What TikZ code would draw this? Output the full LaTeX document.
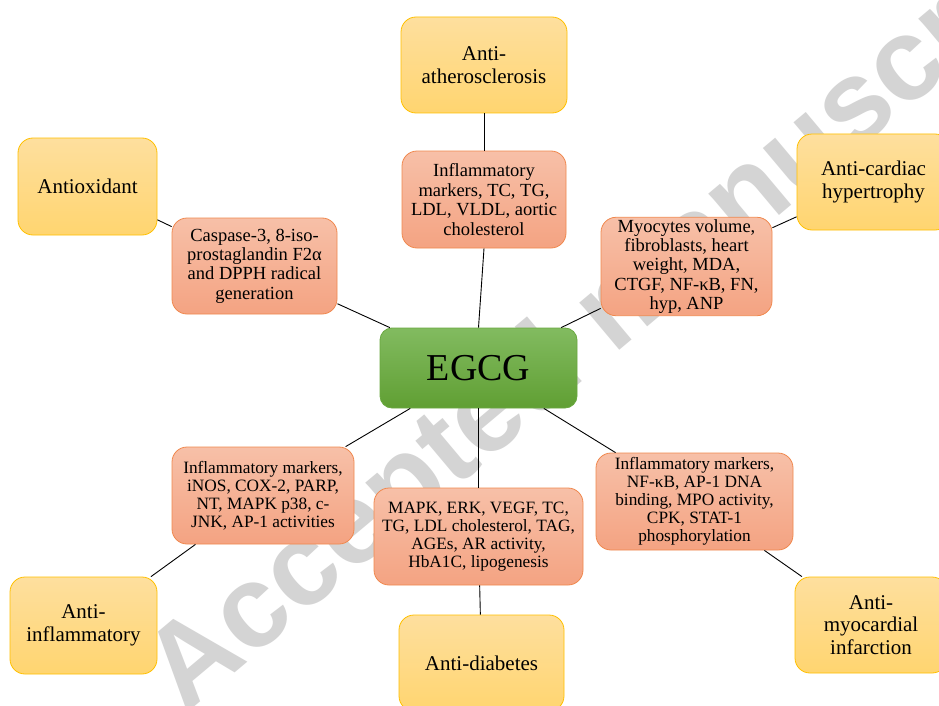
\documentclass[tikz,border=0pt]{standalone}
\usepackage{fontspec}
\setmainfont{Liberation Serif}
\newfontfamily\wmfont{Liberation Sans}
\definecolor{yelT}{RGB}{254,223,158}
\definecolor{yelBt}{RGB}{255,213,112}
\definecolor{yelD}{RGB}{255,192,0}
\definecolor{salT}{RGB}{247,192,168}
\definecolor{salBt}{RGB}{244,163,130}
\definecolor{salD}{RGB}{240,136,78}
\definecolor{grT}{RGB}{130,187,96}
\definecolor{grBt}{RGB}{96,159,51}
\definecolor{grD}{RGB}{106,168,64}
\definecolor{wmgray}{RGB}{212,212,212}
\begin{document}
\begin{tikzpicture}[x=1pt,y=-1pt,
  ybox/.style={draw=yelD, line width=0.8pt, top color=yelT, bottom color=yelBt,
    rounded corners=15pt, align=center, inner sep=2pt,
    font=\fontsize{21}{22.5}\selectfont},
  sbox/.style={draw=salD, line width=0.8pt, top color=salT, bottom color=salBt,
    rounded corners=15pt, align=center, inner sep=2pt,
    font=\fontsize{18.5}{19.4}\selectfont},
  sboxsm/.style={sbox, font=\fontsize{17.3}{17.9}\selectfont},
  gbox/.style={draw=grD, line width=0.8pt, top color=grT, bottom color=grBt,
    rounded corners=12pt, align=center, inner sep=2pt,
    font=\fontsize{38}{40}\selectfont},
  conn/.style={draw=black, line width=0.9pt}]
\useasboundingbox (0,0) rectangle (939,706);
\clip (0,0) rectangle (939,706);
\fill[white] (0,0) rectangle (939,706);
% watermark
\node[rotate=40, anchor=base west, text=wmgray, inner sep=0pt,
  font=\wmfont\bfseries\fontsize{117}{117}\selectfont] (wm) at (185,715) {Accepted manuscript};
% yellow boxes
\node[ybox, minimum width=166pt, minimum height=96pt] (athero) at (484,65) {Anti-\\atherosclerosis};
\node[ybox, minimum width=139pt, minimum height=97pt] (antiox) at (87.5,186.5) {Antioxidant};
\node[ybox, minimum width=153pt, minimum height=96pt] (cardiac) at (873.5,182) {Anti-cardiac\\hypertrophy};
\node[ybox, minimum width=147pt, minimum height=97pt] (inflam) at (83.5,625.5) {Anti-\\inflammatory};
\node[ybox, minimum width=165pt, minimum height=96pt] (diab) at (481.5,663) {Anti-diabetes};
\node[ybox, minimum width=152pt, minimum height=96pt] (myo) at (871,625) {Anti-\\myocardial\\infarction};
% salmon boxes
\node[sbox, minimum width=164pt, minimum height=97pt] (athm) at (484,199.5) {Inflammatory\\markers, TC, TG,\\LDL, VLDL, aortic\\cholesterol};
\node[sbox, minimum width=165pt, minimum height=96pt] (casp) at (254.5,266) {Caspase-3, 8-iso-\\prostaglandin F2α\\and DPPH radical\\generation};
\node[sbox, minimum width=171pt, minimum height=97pt] (myoc) at (686.5,266.5) {Myocytes volume,\\fibroblasts, heart\\weight, MDA,\\CTGF, NF-κB, FN,\\hyp, ANP};
\node[sboxsm, minimum width=182pt, minimum height=97pt] (inflL) at (263,495.5) {Inflammatory markers,\\iNOS, COX-2, PARP,\\NT, MAPK p38, c-\\JNK, AP-1 activities};
\node[sboxsm, minimum width=209pt, minimum height=97pt] (mapk) at (478.5,536.5) {MAPK, ERK, VEGF, TC,\\TG, LDL cholesterol, TAG,\\AGEs, AR activity,\\HbA1C, lipogenesis};
\node[sboxsm, minimum width=197pt, minimum height=97pt] (inflR) at (694.5,501.5) {Inflammatory markers,\\NF-κB, AP-1 DNA\\binding, MPO activity,\\CPK, STAT-1\\phosphorylation};
% centre
\node[gbox, minimum width=197pt, minimum height=80pt] (egcg) at (478.5,368) {EGCG};
% connectors
\draw[conn] (athero) -- (athm);
\draw[conn] (athm.south) -- (egcg.north);
\draw[conn] (antiox) -- (casp);
\draw[conn] (casp) -- (egcg);
\draw[conn] (cardiac) -- (myoc);
\draw[conn] (myoc) -- (egcg);
\draw[conn] (egcg) -- (inflL);
\draw[conn] (egcg) -- (mapk);
\draw[conn] (egcg) -- (inflR);
\draw[conn] (inflL) -- (inflam);
\draw[conn] (mapk) -- (diab);
\draw[conn] (inflR) -- (myo);
\end{tikzpicture}
\end{document}
